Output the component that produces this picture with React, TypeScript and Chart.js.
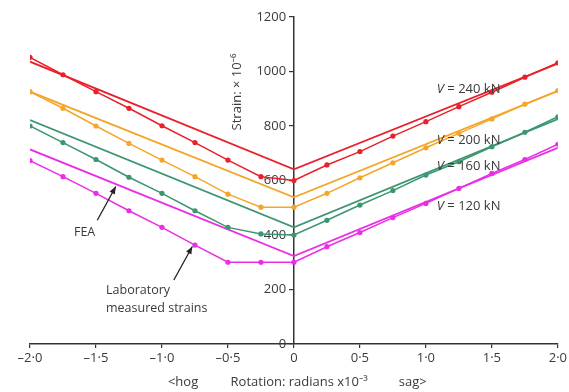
import React, { useEffect, useRef } from "react";
import { Chart, registerables } from "chart.js";

Chart.register(...registerables);

const labX = [-2, -1.75, -1.5, -1.25, -1, -0.75, -0.5, -0.25, 0, 0.25, 0.5, 0.75, 1, 1.25, 1.5, 1.75, 2];
const lab240 = [1052, 988, 926, 865, 801, 739, 675, 614, 600, 657, 706, 763, 816, 871, 924, 979, 1032];
const lab200 = [926, 865, 800, 736, 675, 614, 550, 502, 502, 553, 610, 665, 720, 773, 826, 880, 930];
const lab160 = [800, 739, 677, 612, 553, 489, 428, 404, 400, 454, 510, 563, 620, 669, 724, 777, 834];
const lab120 = [673, 614, 553, 489, 428, 363, 300, 300, 300, 357, 409, 464, 516, 571, 626, 677, 733];

const feaX = [-2, 0, 2];
const fea240 = [1036, 641, 1029];
const fea200 = [926, 538, 928];
const fea160 = [822, 428, 825];
const fea120 = [714, 323, 720];

const xTicks = [-2, -1.5, -1, -0.5, 0, 0.5, 1, 1.5, 2];
const yTicks = [0, 200, 400, 600, 800, 1000, 1200];
const loadLabels = ["V = 240 kN", "V = 200 kN", "V = 160 kN", "V = 120 kN"];
const loadLabelY = [936, 749, 651, 504];

const RED = "#e8212b";
const ORANGE = "#f5a62a";
const GREEN = "#3c9670";
const MAGENTA = "#ea2ee6";
const TEXT = "#3a3a3a";
const FONT = "'Open Sans', 'Noto Sans', sans-serif";

const pts = (xs: number[], ys: number[]) => xs.map((x, i) => ({ x, y: ys[i] }));

const fmtX = (v: number) => {
  if (v === 0) return "0";
  const s = Math.abs(v).toFixed(1).replace(".", "·");
  return (v < 0 ? "–" : "") + s;
};

const annotations = {
  id: "annotations",
  afterDraw(chart: any) {
    const { ctx, scales } = chart;
    const xs = scales.x;
    const ys = scales.y;
    const px = (v: number) => xs.getPixelForValue(v);
    const py = (v: number) => ys.getPixelForValue(v);
    ctx.save();
    ctx.fillStyle = TEXT;
    ctx.textBaseline = "middle";

    loadLabels.forEach((t, i) => {
      const x0 = px(1.083);
      const y0 = py(loadLabelY[i]);
      ctx.textAlign = "left";
      ctx.font = `italic 13px ${FONT}`;
      ctx.fillText("V", x0, y0);
      const w = ctx.measureText("V").width;
      ctx.font = `13px ${FONT}`;
      ctx.fillText(t.slice(1), x0 + w, y0);
    });

    ctx.font = `12.5px ${FONT}`;
    ctx.textAlign = "left";
    ctx.fillText("FEA", px(-1.667), py(411));
    ctx.fillText("Laboratory", px(-1.424), py(198));
    ctx.fillText("measured strains", px(-1.424), py(132));

    const arrow = (x1: number, y1: number, x2: number, y2: number) => {
      const ax = px(x1), ay = py(y1), bx = px(x2), by = py(y2);
      ctx.strokeStyle = "#222";
      ctx.fillStyle = "#222";
      ctx.lineWidth = 1.3;
      ctx.beginPath();
      ctx.moveTo(ax, ay);
      ctx.lineTo(bx, by);
      ctx.stroke();
      const ang = Math.atan2(by - ay, bx - ax);
      const L = 8, W = 0.38;
      ctx.beginPath();
      ctx.moveTo(bx, by);
      ctx.lineTo(bx - L * Math.cos(ang - W), by - L * Math.sin(ang - W));
      ctx.lineTo(bx - L * Math.cos(ang + W), by - L * Math.sin(ang + W));
      ctx.closePath();
      ctx.fill();
    };
    arrow(-1.49, 454, -1.35, 578);
    arrow(-0.91, 235, -0.77, 358);

    ctx.fillStyle = TEXT;
    ctx.font = `13px ${FONT}`;
    ctx.save();
    ctx.translate(px(-0.432), py(925));
    ctx.rotate(-Math.PI / 2);
    ctx.textAlign = "center";
    ctx.fillText("Strain: × 10⁻⁶", 0, 0);
    ctx.restore();

    const yb = ys.bottom + 38;
    ctx.textAlign = "center";
    ctx.fillText("<hog", px(-0.84), yb);
    ctx.fillText("Rotation: radians x10⁻³", px(0.04), yb);
    ctx.fillText("sag>", px(0.9), yb);
    ctx.restore();
  },
};

export default function App() {
  const ref = useRef<HTMLCanvasElement>(null);
  useEffect(() => {
    document.body.style.margin = "0";
    document.body.style.overflow = "hidden";
    if (!ref.current) return;
    const labDs = (label: string, data: number[], color: string) => ({
      label,
      data: pts(labX, data),
      borderColor: color,
      backgroundColor: color,
      borderWidth: 1.5,
      pointRadius: 2.6,
      pointStyle: "circle",
      pointBorderWidth: 0,
      tension: 0,
    });
    const feaDs = (label: string, data: number[], color: string) => ({
      label,
      data: pts(feaX, data),
      borderColor: color,
      backgroundColor: color,
      borderWidth: 1.8,
      pointRadius: 0,
      tension: 0,
    });
    const chart = new Chart(ref.current, {
      type: "line",
      data: {
        datasets: [
          feaDs("FEA 240", fea240, RED),
          labDs("Lab 240", lab240, RED),
          feaDs("FEA 200", fea200, ORANGE),
          labDs("Lab 200", lab200, ORANGE),
          feaDs("FEA 160", fea160, GREEN),
          labDs("Lab 160", lab160, GREEN),
          feaDs("FEA 120", fea120, MAGENTA),
          labDs("Lab 120", lab120, MAGENTA),
        ],
      },
      options: {
        animation: false,
        responsive: false,
        layout: { padding: { left: 30, right: 10, top: 17, bottom: 0 } },
        plugins: { legend: { display: false }, tooltip: { enabled: false } },
        scales: {
          x: {
            type: "linear",
            min: -2,
            max: 2,
            afterBuildTicks: (s: any) => {
              s.ticks = xTicks.map((v) => ({ value: v }));
            },
            afterFit: (s: any) => {
              s.height = 48;
            },
            ticks: {
              callback: (v: any) => fmtX(Number(v)),
              color: TEXT,
              font: { family: FONT, size: 13 },
              padding: 2,
              maxRotation: 0,
              autoSkip: false,
            },
            grid: { drawOnChartArea: false, tickLength: 4, color: "#333", lineWidth: 1.2 },
            border: { color: "#333", width: 1.5 },
          },
          y: {
            type: "linear",
            position: { x: 0 } as any,
            min: 0,
            max: 1200,
            afterBuildTicks: (s: any) => {
              s.ticks = yTicks.map((v) => ({ value: v }));
            },
            ticks: {
              callback: (v: any) => String(v) + "\u2002\u200A",
              color: TEXT,
              font: { family: FONT, size: 13 },
              padding: 4,
              autoSkip: false,
            },
            grid: { drawOnChartArea: false, tickLength: 4, color: "#333", lineWidth: 1.2 },
            border: { color: "#333", width: 1.5 },
          },
        },
      },
      plugins: [annotations],
    });
    return () => chart.destroy();
  }, []);
  return (
    <div style={{ position: "fixed", left: 0, top: 0, width: 569, height: 392, background: "#fff" }}>
      <canvas ref={ref} width={569} height={392} style={{ width: 569, height: 392 }} />
    </div>
  );
}
